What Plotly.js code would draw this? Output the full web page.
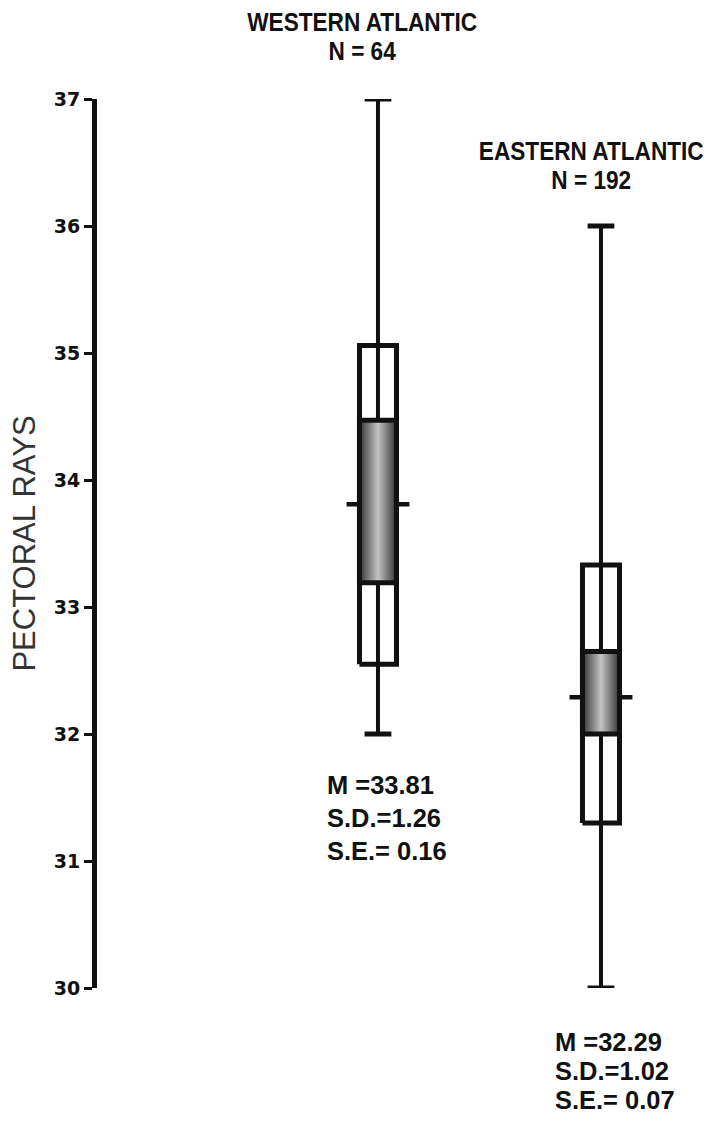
<!DOCTYPE html>
<html>
<head>
<meta charset="utf-8">
<script src="https://cdn.plot.ly/plotly-3.0.1.min.js"></script>
<style>html,body{margin:0;padding:0;background:#fff;}#chart{width:708px;height:1122px;}</style>
</head>
<body>
<div id="chart"></div>
<script>
// ---- data ----
var categories = ['WESTERN ATLANTIC', 'EASTERN ATLANTIC'];
var sampleN    = [64, 192];
var rangeMin   = [32, 30];
var rangeMax   = [37, 36];
var boxLow     = [32.55, 31.30];
var boxHigh    = [35.06, 33.33];
var shadeLow   = [33.19, 32.00];
var shadeHigh  = [34.47, 32.65];
var means      = [33.81, 32.29];
var sds        = [1.26, 1.02];
var ses        = [0.16, 0.07];
var yTicks     = [30, 31, 32, 33, 34, 35, 36, 37];

// ---- styling constants ----
var BOX_HALF = 0.083, CAP_HALF = 0.06, MEAN_HALF = 0.141;
var INK = '#111';
var traces = [];

categories.forEach(function (name, i) {
  var c = i;
  // white box (mean ± SD)
  traces.push({
    type: 'scatter', mode: 'lines', cliponaxis: false, hoverinfo: 'skip', showlegend: false,
    x: [c - BOX_HALF, c + BOX_HALF, c + BOX_HALF, c - BOX_HALF, c - BOX_HALF],
    y: [boxLow[i], boxLow[i], boxHigh[i], boxHigh[i], boxLow[i]],
    fill: 'toself', fillcolor: '#ffffff',
    line: {color: INK, width: 5}
  });
  // range whisker
  traces.push({
    type: 'scatter', mode: 'lines', cliponaxis: false, hoverinfo: 'skip', showlegend: false,
    x: [c, c], y: [rangeMin[i], rangeMax[i]],
    line: {color: INK, width: 4}
  });
  // caps
  traces.push({
    type: 'scatter', mode: 'lines', cliponaxis: false, hoverinfo: 'skip', showlegend: false,
    x: [c - CAP_HALF, c + CAP_HALF, null, c - CAP_HALF, c + CAP_HALF],
    y: [rangeMin[i], rangeMin[i], null, rangeMax[i], rangeMax[i]],
    line: {color: INK, width: 5}
  });
  // mean tick
  traces.push({
    type: 'scatter', mode: 'lines', cliponaxis: false, hoverinfo: 'skip', showlegend: false,
    x: [c - MEAN_HALF, c + MEAN_HALF], y: [means[i], means[i]],
    line: {color: INK, width: 4.5}
  });
  // shaded central block
  traces.push({
    type: 'scatter', mode: 'lines', cliponaxis: false, hoverinfo: 'skip', showlegend: false,
    x: [c - BOX_HALF, c + BOX_HALF, c + BOX_HALF, c - BOX_HALF, c - BOX_HALF],
    y: [shadeLow[i], shadeLow[i], shadeHigh[i], shadeHigh[i], shadeLow[i]],
    fill: 'toself',
    fillgradient: {type: 'horizontal', colorscale: [[0, '#333333'], [0.5, '#c4c4c4'], [1, '#333333']]},
    line: {color: INK, width: 5}
  });
});

// ---- text annotations ----
var L = 97, W = 603, PB = 988, PH = 889;
function px(x) { return (x - L) / W; }
function py(y) { return (PB - y) / PH; }
var headFont = {family: 'Liberation Sans, Arial, sans-serif', size: 26, color: INK, weight: 'bold'};
var statFont = {family: 'Liberation Sans, Arial, sans-serif', size: 26, color: INK, weight: 'bold'};

// per-annotation presentation: horizontal condensing and line pitch (em)
var annStyle = [];
var annotations = [];
var headPos = [{x: px(362), y: py(5)}, {x: px(591), y: py(134)}];
var statPos = [{x: px(325), y: py(768), pitch: 1.27}, {x: px(553), y: py(1025), pitch: 1.115}];

categories.forEach(function (name, i) {
  annotations.push({xref: 'paper', yref: 'paper', x: headPos[i].x, y: headPos[i].y,
    xanchor: 'center', yanchor: 'top', align: 'center', showarrow: false,
    text: name + '<br>N = ' + sampleN[i], font: headFont});
  annStyle.push({scale: 0.87, pitch: 1.115, origin: 'center'});
  annotations.push({xref: 'paper', yref: 'paper', x: statPos[i].x, y: statPos[i].y,
    xanchor: 'left', yanchor: 'top', align: 'left', showarrow: false,
    text: ['M =' + means[i].toFixed(2), 'S.D.=' + sds[i].toFixed(2), 'S.E.= ' + ses[i].toFixed(2)].join('<br>'),
    font: statFont});
  annStyle.push({scale: 0.98, pitch: statPos[i].pitch, origin: 'left'});
});

var layout = {
  width: 708, height: 1122,
  margin: {l: L, r: 708 - L - W, t: 99, b: 1122 - PB},
  paper_bgcolor: '#ffffff', plot_bgcolor: '#ffffff',
  showlegend: false,
  xaxis: {visible: false, range: [-1.260, 1.444], fixedrange: true},
  yaxis: {
    range: [30, 37], tickvals: yTicks, ticktext: yTicks.map(String),
    showgrid: false, zeroline: false,
    showline: true, linecolor: INK, linewidth: 5,
    ticks: 'outside', ticklen: 8, tickwidth: 3, tickcolor: INK,
    tickfont: {family: 'DejaVu Sans, sans-serif', size: 19, color: INK, weight: 'bold'},
    title: {text: 'PECTORAL RAYS', standoff: 10,
      font: {family: 'Liberation Sans, Arial, sans-serif', size: 31, color: '#333'}}
  },
  annotations: annotations
};

Plotly.newPlot('chart', traces, layout, {displayModeBar: false, staticPlot: true}).then(function (gd) {
  // tighten line pitch and condense the bold lettering, like the original condensed face
  gd.querySelectorAll('g.annotation').forEach(function (g) {
    var idx = +g.getAttribute('data-index');
    var t = g.querySelector('text.annotation-text');
    if (!t || isNaN(idx)) return;
    var st = annStyle[idx];
    var lines = t.querySelectorAll('tspan.line');
    lines.forEach(function (ln, k) { ln.setAttribute('dy', (k * st.pitch) + 'em'); });
    t.style.transformBox = 'fill-box';
    t.style.transformOrigin = st.origin + ' center';
    t.style.transform = 'scaleX(' + st.scale + ')';
  });
});
</script>
</body>
</html>
